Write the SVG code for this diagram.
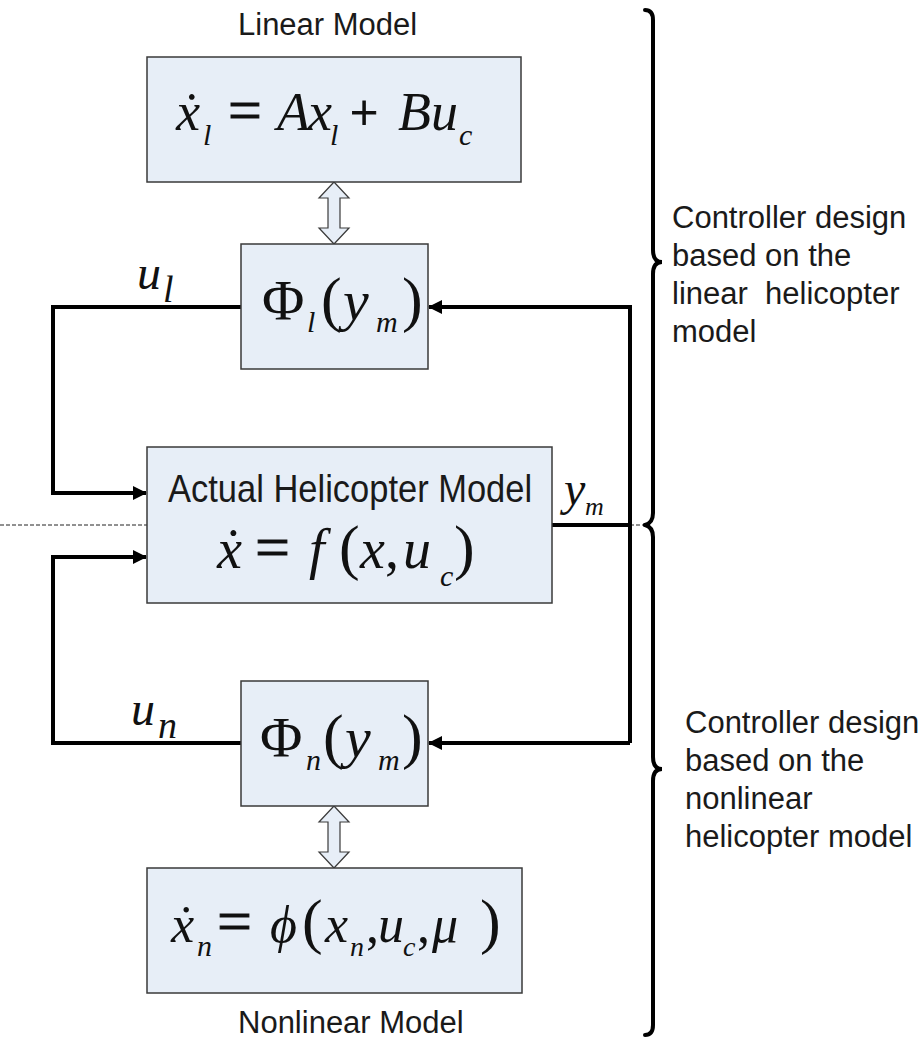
<svg xmlns="http://www.w3.org/2000/svg" width="923" height="1040" viewBox="0 0 923 1040">
<style>
.box{fill:#e7eef7;stroke:#3a3a3a;stroke-width:1.5}
.dbl{fill:#e7eef7;stroke:#3a3a3a;stroke-width:1.2}
.sans{font-family:"Liberation Sans",Arial,sans-serif;fill:#1a1a1a}
.m{font-family:"Liberation Serif","Times New Roman",serif;fill:#111}
.i{font-style:italic}
.op{stroke:#111;stroke-width:0.9}
.wire{fill:none;stroke:#000;stroke-width:4}
.brace{fill:none;stroke:#000;stroke-width:4;stroke-linecap:round}
.dash{stroke:#222;stroke-width:1;stroke-dasharray:4 2}
</style>
<defs>
<marker id="ah" markerWidth="14" markerHeight="14" refX="13" refY="7" orient="auto" markerUnits="userSpaceOnUse">
<path d="M0,0 L14,7 L0,14 Z" fill="#000"/>
</marker>
</defs>

<g id="connectors">
<line class="dash" x1="0" y1="525" x2="147" y2="525"/>
<line class="dash" x1="630" y1="525" x2="646" y2="525"/>
<polyline class="wire" points="241,307 53,307 53,493 146,493" marker-end="url(#ah)"/>
<polyline class="wire" points="241,743 53,743 53,557 146,557" marker-end="url(#ah)"/>
<polyline class="wire" points="552,525 630,525"/>
<polyline class="wire" points="630,743 630,307 429,307" marker-end="url(#ah)"/>
<polyline class="wire" points="630,743 429,743" marker-end="url(#ah)"/>
<polygon class="dbl" points="334,182 349,198 340,198 340,228 349,228 334,244 319,228 328,228 328,198 319,198"/>
<polygon class="dbl" points="334,806 349,822 340,822 340,852 349,852 334,868 319,852 328,852 328,822 319,822"/>
</g>

<g id="linear-model">
<text class="sans" x="238" y="35" font-size="31">Linear Model</text>
<rect class="box" x="147" y="57" width="374" height="125"/>
<text class="m" font-size="54" y="130"><tspan class="i" x="176">ẋ</tspan><tspan class="i" x="203" dy="15" font-size="30">l</tspan><tspan class="op" x="228" dy="-15" font-size="60">=</tspan><tspan class="i" x="277">A</tspan><tspan class="i" x="308">x</tspan><tspan class="i" x="330" dy="15" font-size="30">l</tspan><tspan class="op" x="350" dy="-15" font-size="50">+</tspan><tspan class="i" x="398">B</tspan><tspan class="i" x="431">u</tspan><tspan class="i" x="459" dy="15" font-size="30">c</tspan></text>
</g>

<g id="phi-l">
<rect class="box" x="241" y="244" width="187" height="125"/>
<text class="m" font-size="58" y="320"><tspan x="262">Φ</tspan><tspan class="i" x="307" dy="12" font-size="30">l</tspan><tspan x="321" dy="-12" font-size="62">(</tspan><tspan class="i" x="343">y</tspan><tspan class="i" x="376" dy="12" font-size="30">m</tspan><tspan x="402" dy="-12" font-size="62">)</tspan></text>
</g>

<g id="label-ul">
<text class="m i" font-size="48" y="289"><tspan x="137">u</tspan><tspan x="163" dy="13" font-size="38">l</tspan></text>
</g>

<g id="actual-model">
<rect class="box" x="147" y="447" width="405" height="156"/>
<text class="sans" transform="translate(168,502) scale(1,1.15)" x="0" y="0" font-size="34.5">Actual Helicopter Model</text>
<text class="m" font-size="56" y="568"><tspan class="i" x="217">ẋ</tspan><tspan class="op" x="255" font-size="62">=</tspan><tspan class="i" x="309">f</tspan><tspan x="339" font-size="62">(</tspan><tspan class="i" x="360">x</tspan><tspan x="385">,</tspan><tspan class="i" x="403">u</tspan><tspan class="i" x="440" dy="18" font-size="30">c</tspan><tspan x="454" dy="-18" font-size="62">)</tspan></text>
</g>

<g id="label-ym">
<text class="m i" font-size="48" y="505"><tspan x="564">y</tspan><tspan x="585" dy="10" font-size="26">m</tspan></text>
</g>

<g id="phi-n">
<rect class="box" x="241" y="681" width="187" height="125"/>
<text class="m" font-size="58" y="757"><tspan x="260">Φ</tspan><tspan class="i" x="306" dy="13" font-size="30">n</tspan><tspan x="323" dy="-13" font-size="62">(</tspan><tspan class="i" x="345">y</tspan><tspan class="i" x="378" dy="13" font-size="30">m</tspan><tspan x="402" dy="-13" font-size="62">)</tspan></text>
</g>

<g id="label-un">
<text class="m i" font-size="48" y="725"><tspan x="131">u</tspan><tspan x="158" dy="13" font-size="38">n</tspan></text>
</g>

<g id="nonlinear-model">
<rect class="box" x="147" y="868" width="375" height="125"/>
<text class="m" font-size="52" y="942"><tspan class="i" x="171">ẋ</tspan><tspan class="i" x="197" dy="14" font-size="30">n</tspan><tspan class="op" x="217" dy="-14" font-size="62">=</tspan><tspan class="i" x="270">ϕ</tspan><tspan x="302" font-size="62">(</tspan><tspan class="i" x="325">x</tspan><tspan class="i" x="350" dy="14" font-size="28">n</tspan><tspan x="366" dy="-14">,</tspan><tspan class="i" x="378">u</tspan><tspan class="i" x="403" dy="14" font-size="28">c</tspan><tspan x="417" dy="-14">,</tspan><tspan class="i" x="432">μ</tspan><tspan x="480" font-size="62">)</tspan></text>
<text class="sans" x="238" y="1033" font-size="31">Nonlinear Model</text>
</g>

<g id="brace-linear">
<path class="brace" d="M645,10 Q653,10 653,20 L653,250 Q653,262 662,262 Q653,262 653,274 L653,513 Q653,523 645,525"/>
<text class="sans" font-size="31" style="white-space:pre"><tspan x="672" y="228">Controller design</tspan><tspan x="672" y="266">based on the</tspan><tspan x="672" y="304">linear  helicopter</tspan><tspan x="672" y="342">model</tspan></text>
</g>

<g id="brace-nonlinear">
<path class="brace" d="M645,525 Q653,527 653,537 L653,757 Q653,769 662,769 Q653,769 653,781 L653,1025 Q653,1035 645,1035"/>
<text class="sans" font-size="31"><tspan x="685" y="733">Controller design</tspan><tspan x="685" y="771">based on the</tspan><tspan x="685" y="809">nonlinear</tspan><tspan x="685" y="847">helicopter model</tspan></text>
</g>
</svg>
